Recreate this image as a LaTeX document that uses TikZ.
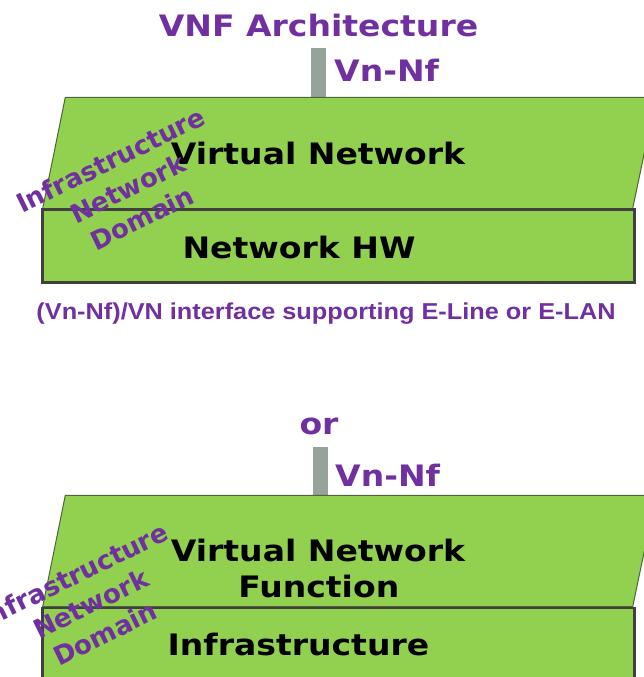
\documentclass[tikz,border=0pt]{standalone}
\usepackage{fontspec}
\newfontfamily\vfont[FakeStretch=1.12]{DejaVu Sans}
\newfontfamily\rfont{DejaVu Sans}
\newfontfamily\afont[FakeStretch=1.1]{Liberation Sans}
\definecolor{vgreen}{RGB}{146,208,80}
\definecolor{vpurple}{RGB}{112,48,160}
\definecolor{vbar}{RGB}{149,163,152}
\definecolor{vedge}{RGB}{64,64,64}
\definecolor{polyedge}{RGB}{80,100,60}
\begin{document}
\begin{tikzpicture}[x=1pt,y=1pt,
  lbl/.style={inner sep=0pt, anchor=base, font=\vfont\bfseries\fontsize{29.5}{32}\selectfont},
  blk/.style={lbl, text=black},
  pur/.style={lbl, text=vpurple},
  rottext/.style={inner sep=0pt, anchor=base, text=vpurple, font=\rfont\bfseries\fontsize{26}{30}\selectfont},
  captext/.style={inner sep=0pt, anchor=base, text=vpurple, font=\afont\bfseries\fontsize{23}{26}\selectfont},
  vlayer/.style={fill=vgreen, draw=polyedge, line width=1pt, line join=miter},
  hlayer/.style={fill=vgreen, draw=vedge, line width=2.5pt},
  ifbar/.style={draw=vbar, line width=14.7pt}]
\useasboundingbox (0,0) rectangle (644,-677);
\clip (0,0) rectangle (644,-677);

% ---------- top diagram ----------
\node[pur] (title) at (318.5,-36.6) {VNF Architecture};
\coordinate (bar1top) at (318.4,-48.3);
\coordinate (bar1bot) at (318.4,-97.8);
\draw[ifbar] (bar1top) -- (bar1bot);
\node[pur, anchor=base west] (vnnf1) at (334,-81.7) {Vn-Nf};

\draw[vlayer] (65.3,-97.3) -- (656,-97.3) -- (632.7,-208.5) -- (42.7,-208.5) -- cycle;
\draw[hlayer] (42.7,-209.5) rectangle (634.7,-282.7);
\node[blk] (vn1) at (318,-164) {Virtual Network};
\node[blk] (nhw) at (299,-258.3) {Network HW};

\begin{scope}[shift={(132,-197)}, rotate=26, transform shape]
  \node[rottext] (ind1a) at (-3,33) {Infrastructure};
  \node[rottext] (ind1b) at (0,0) {Network};
  \node[rottext] (ind1c) at (0,-33) {Domain};
\end{scope}

\node[captext] (caption) at (326,-319.3) {(Vn-Nf)/VN interface supporting E-Line or E-LAN};

% ---------- bottom diagram ----------
\node[pur] (or) at (319,-434) {or};
\coordinate (bar2top) at (320.7,-447);
\coordinate (bar2bot) at (320.7,-495.8);
\draw[ifbar] (bar2top) -- (bar2bot);
\node[pur, anchor=base west] (vnnf2) at (335,-486.7) {Vn-Nf};

\draw[vlayer] (65.3,-495.3) -- (656,-495.3) -- (632.7,-606.7) -- (42.7,-606.7) -- cycle;
\draw[hlayer] (42.7,-608) rectangle (634.7,-700);
\node[blk] (vnf2a) at (318,-561.7) {Virtual Network};
\node[blk] (vnf2b) at (318.8,-597.3) {Function};
\node[blk] (infra) at (298.4,-655.7) {Infrastructure};

\begin{scope}[shift={(95,-612.5)}, rotate=26, transform shape]
  \node[rottext] (ind2a) at (-3,33) {Infrastructure};
  \node[rottext] (ind2b) at (0,0) {Network};
  \node[rottext] (ind2c) at (0,-33) {Domain};
\end{scope}
\end{tikzpicture}
\end{document}
